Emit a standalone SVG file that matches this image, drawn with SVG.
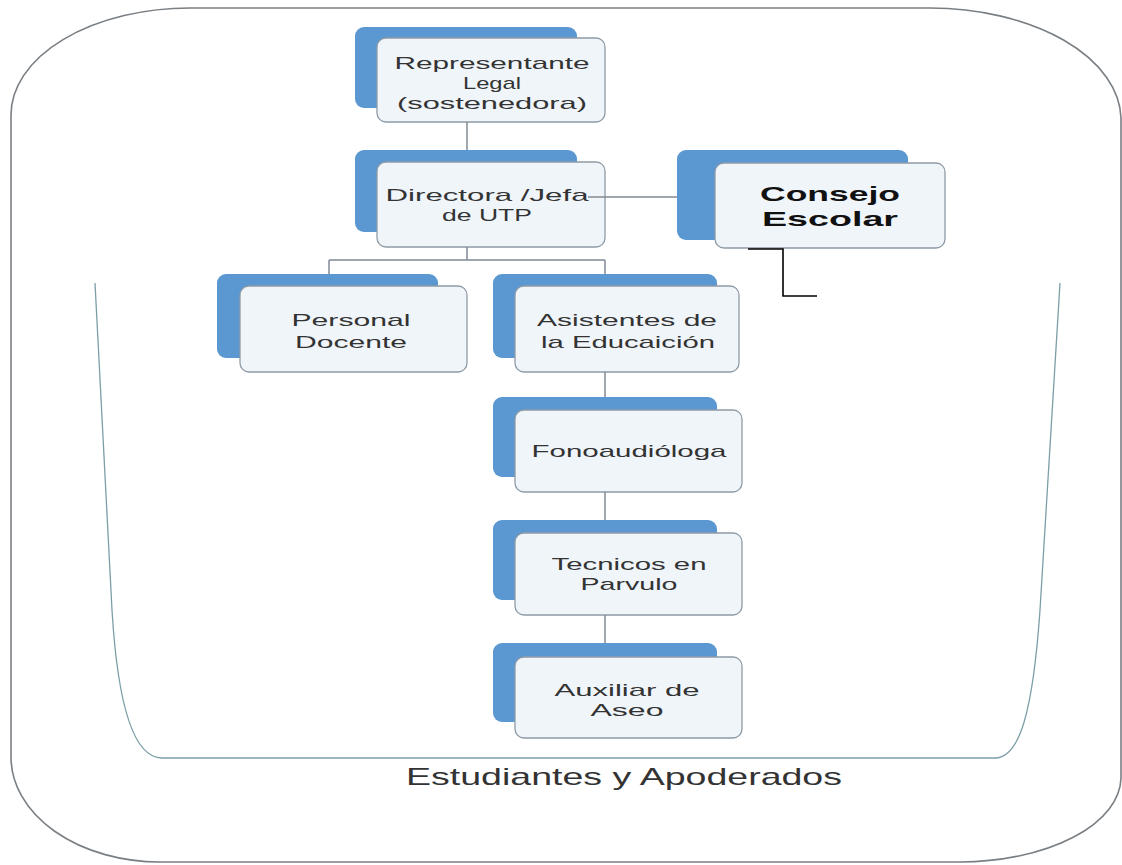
<svg xmlns="http://www.w3.org/2000/svg" width="1122" height="865" viewBox="0 0 1122 865">
<style>
.back{fill:#5b97d0;}
.front{fill:#f0f5fa;stroke:#8e9ba6;stroke-width:1.3;}
.t{font-family:"Liberation Sans",Arial,sans-serif;font-size:17px;fill:#333;text-anchor:middle;}
.tb{font-family:"Liberation Sans",Arial,sans-serif;font-size:21px;font-weight:bold;fill:#111;text-anchor:middle;}
.conn{stroke:#7f8b95;stroke-width:1.5;fill:none;}
.frame{fill:none;stroke:#7a7f84;stroke-width:1.6;}
.inner{fill:none;stroke:#7b9ea7;stroke-width:1.3;}
</style>
<rect x="0" y="0" width="1122" height="865" fill="#ffffff"/>
<g id="frame">
<path class="frame" d="M 190 8 L 930 8 A 192 112 0 0 1 1121 118 L 1121 778 A 162 85 0 0 1 960 862 L 160 862 A 149 105 0 0 1 11 757 L 11 115 A 179 107 0 0 1 190 8 Z"/>
<path class="inner" d="M 95 283 L 112 610 C 118 710 135 758 162 758 L 995 758 C 1020 758 1033 710 1040 610 L 1060 283"/>
<text x="624" y="785" font-family="Liberation Sans, Arial, sans-serif" font-size="24" fill="#333" text-anchor="middle" textLength="436" lengthAdjust="spacingAndGlyphs">Estudiantes y Apoderados</text>
</g>
<g id="n-representante">
<rect class="back" x="355" y="27" width="222" height="81" rx="9"/>
<rect class="front" x="377" y="38" width="228" height="84" rx="9"/>
<text class="t" x="492" y="69" textLength="195" lengthAdjust="spacingAndGlyphs">Representante</text>
<text class="t" x="492" y="89" textLength="58" lengthAdjust="spacingAndGlyphs">Legal</text>
<text class="t" x="492" y="109" textLength="190" lengthAdjust="spacingAndGlyphs">(sostenedora)</text>
</g>
<g id="n-directora">
<rect class="back" x="355" y="150" width="222" height="82" rx="9"/>
<rect class="front" x="377" y="162" width="228" height="85" rx="9"/>
<text class="t" x="487" y="201" textLength="203" lengthAdjust="spacingAndGlyphs">Directora /Jefa</text>
<text class="t" x="487" y="221" textLength="90" lengthAdjust="spacingAndGlyphs">de UTP</text>
</g>
<g id="n-consejo">
<rect class="back" x="677" y="150" width="231" height="90" rx="9"/>
<rect class="front" x="715" y="163" width="230" height="85" rx="9"/>
<text class="tb" x="830" y="201" textLength="140" lengthAdjust="spacingAndGlyphs">Consejo</text>
<text class="tb" x="830" y="226" textLength="136" lengthAdjust="spacingAndGlyphs">Escolar</text>
</g>
<g id="n-personal">
<rect class="back" x="217" y="274" width="221" height="84" rx="9"/>
<rect class="front" x="240" y="286" width="227" height="86" rx="9"/>
<text class="t" x="351" y="326" textLength="119" lengthAdjust="spacingAndGlyphs">Personal</text>
<text class="t" x="351" y="348" textLength="112" lengthAdjust="spacingAndGlyphs">Docente</text>
</g>
<g id="n-asistentes">
<rect class="back" x="493" y="274" width="224" height="84" rx="9"/>
<rect class="front" x="515" y="286" width="224" height="86" rx="9"/>
<text class="t" x="627" y="326" textLength="180" lengthAdjust="spacingAndGlyphs">Asistentes de</text>
<text class="t" x="628" y="348" textLength="174" lengthAdjust="spacingAndGlyphs">la Educaición</text>
</g>
<g id="n-fono">
<rect class="back" x="493" y="397" width="224" height="80" rx="9"/>
<rect class="front" x="515" y="410" width="227" height="82" rx="9"/>
<text class="t" x="629" y="457" textLength="195" lengthAdjust="spacingAndGlyphs">Fonoaudióloga</text>
</g>
<g id="n-tecnicos">
<rect class="back" x="493" y="520" width="224" height="80" rx="9"/>
<rect class="front" x="515" y="533" width="227" height="82" rx="9"/>
<text class="t" x="629" y="570" textLength="155" lengthAdjust="spacingAndGlyphs">Tecnicos en</text>
<text class="t" x="629" y="590" textLength="97" lengthAdjust="spacingAndGlyphs">Parvulo</text>
</g>
<g id="n-auxiliar">
<rect class="back" x="493" y="643" width="224" height="79" rx="9"/>
<rect class="front" x="515" y="657" width="227" height="81" rx="9"/>
<text class="t" x="627" y="696" textLength="145" lengthAdjust="spacingAndGlyphs">Auxiliar de</text>
<text class="t" x="627" y="716" textLength="73" lengthAdjust="spacingAndGlyphs">Aseo</text>
</g>
<g id="connectors">
<path class="conn" d="M 467 122 L 467 150"/>
<path class="conn" d="M 467 247 L 467 260 M 329 260 L 605 260 M 329 260 L 329 274 M 605 260 L 605 274"/>
<path class="conn" d="M 605 372 L 605 397"/>
<path class="conn" d="M 605 492 L 605 520"/>
<path class="conn" d="M 605 615 L 605 643"/>
<path class="conn" d="M 588 197 L 677 197"/>
<path d="M 748 249 L 783 249 L 783 296 L 817 296" fill="none" stroke="#000" stroke-width="1.6"/>
</g>
</svg>
